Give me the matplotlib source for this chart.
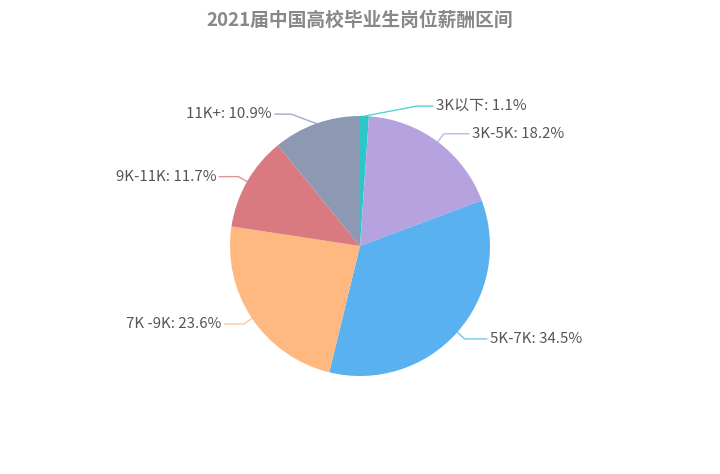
import matplotlib
matplotlib.use('Agg')
import matplotlib.pyplot as plt
import numpy as np

plt.rcParams['font.family'] = ['Noto Sans CJK SC', 'DejaVu Sans']

title = "2021届中国高校毕业生岗位薪酬区间"
labels = ["3K以下", "3K-5K", "5K-7K", "7K -9K", "9K-11K", "11K+"]
shares = [1.1, 18.2, 34.5, 23.6, 11.7, 10.9]
colors = ['#2ec7c9', '#b6a2de', '#5ab1ef', '#ffb980', '#d87a80', '#8d98b3']

# leader line layout (px): elbow shift and horizontal length, echarts moves a couple
shift = [52, 0, 0, 0, 0, -22]
len2 = [16, 25, 22, 19, 19, 16]

W, H = 720, 474
fig = plt.figure(figsize=(W / 100, H / 100), dpi=100)
ax = fig.add_axes([0, 0, 1, 1])

cx, cy, r = 360, H - 246, 130
wedges, _ = ax.pie(shares, colors=colors, startangle=90, counterclock=False,
                   center=(cx, cy), radius=r, frame=True,
                   wedgeprops=dict(linewidth=0))
ax.set_xlim(0, W)
ax.set_ylim(0, H)
ax.set_aspect('equal')
ax.axis('off')

for w, lab, val, c, s, l2 in zip(wedges, labels, shares, colors, shift, len2):
    ang = np.deg2rad((w.theta1 + w.theta2) / 2)
    dx, dy = np.cos(ang), np.sin(ang)
    p0 = (cx + r * dx, cy + r * dy)
    p1 = (cx + (r + 10) * dx + s, cy + (r + 10) * dy)
    side = 1 if dx >= 0 else -1
    p2 = (p1[0] + side * l2, p1[1])
    ax.plot([p0[0], p1[0], p2[0]], [p0[1], p1[1], p2[1]], color=c,
            lw=1, alpha=0.8, solid_joinstyle='round')
    ax.text(p2[0] + side * 3, p2[1], f"{lab}: {val}%", fontsize=10.8,
            color='#555555', ha='left' if side > 0 else 'right', va='center')

fig.text(0.5, 1 - 20 / H, title, ha='center', va='center', fontsize=13.5,
         fontweight='bold', color='#888888')

fig.savefig('out.png', dpi=100, facecolor='white')
